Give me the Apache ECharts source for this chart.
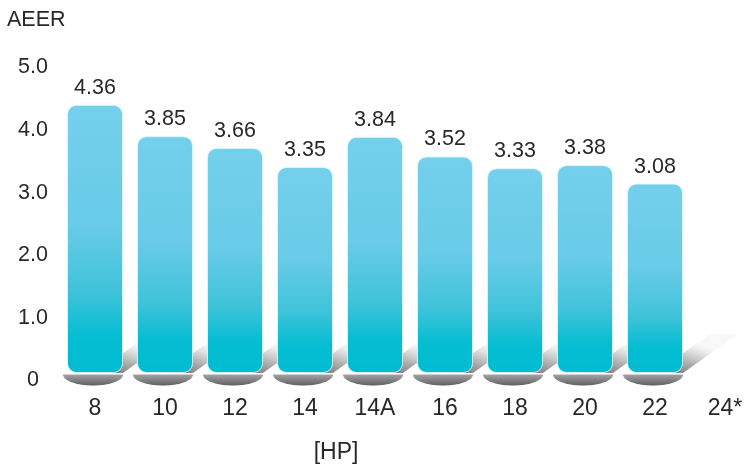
<!DOCTYPE html>
<html>
<head>
<meta charset="utf-8">
<script src="https://cdn.jsdelivr.net/npm/echarts@6/dist/echarts.min.js"></script>
<style>
html,body{margin:0;padding:0;background:#fff;}
#chart{width:746px;height:468px;}
</style>
</head>
<body>
<div id="chart"></div>
<script>
// ---- data ----
const categories = ['8', '10', '12', '14', '14A', '16', '18', '20', '22', '24*'];
const aeerValues = [4.36, 3.85, 3.66, 3.35, 3.84, 3.52, 3.33, 3.38, 3.08]; // 24* has no bar
const yTickValues = [0, 1, 2, 3, 4, 5];
const yTickLabels = ['0', '1.0', '2.0', '3.0', '4.0', '5.0'];
const yAxisTitle = 'AEER';
const xAxisTitle = '[HP]';

const FONT = '"Liberation Sans", Arial, Helvetica, sans-serif';
const TXT = '#282828';
const FS = 21.5;
const FSX = 23;

const chart = echarts.init(document.getElementById('chart'), null, {renderer: 'canvas'});

function renderShadow(params, api) {
  const i = api.value(0);
  const base = api.coord([i, 0]);
  const next = api.coord([i + 1, 0]);
  const band = Math.abs(next[0] - base[0]) || 70;
  const half = band * 0.4;
  const cx = base[0], y0 = base[1];
  const right = cx + half;
  const dx = 55, dy = 39;
  const diag = {
    type: 'polygon',
    shape: {points: [[cx, y0], [right, y0], [right + dx, y0 - dy], [cx + dx, y0 - dy]]},
    style: {
      fill: new echarts.graphic.LinearGradient(0, 1, 0.15, 0, [
        {offset: 0, color: 'rgba(108,108,110,1)'},
        {offset: 0.45, color: 'rgba(165,165,167,0.95)'},
        {offset: 0.8, color: 'rgba(220,220,222,0.8)'},
        {offset: 1, color: 'rgba(236,236,237,0.35)'}
      ])
    },
    z2: 1
  };
  const pts = [];
  const ecx = cx - 2, erx = half + 2, ery = 11, ey = y0 + 1.5;
  for (let k = 0; k <= 40; k++) {
    const t = Math.PI * k / 40;
    pts.push([ecx + erx * Math.cos(t), ey + ery * Math.sin(t)]);
  }
  const ell = {
    type: 'polygon',
    shape: {points: pts},
    style: {
      fill: new echarts.graphic.LinearGradient(0, 0, 0, 1, [
        {offset: 0, color: '#a3a3a5'},
        {offset: 1, color: '#606062'}
      ])
    },
    z2: 2
  };
  return {type: 'group', children: [diag, ell]};
}

const option = {
  animation: false,
  backgroundColor: '#ffffff',
  grid: [
    {left: 95, width: 630, top: 65.5, height: 307.5, containLabel: false},
    {left: 95, width: 630, top: 67.5, height: 313, containLabel: false}
  ],
  xAxis: [
    {
      type: 'category', gridIndex: 0, data: categories, boundaryGap: false,
      axisLine: {show: false}, axisTick: {show: false},
      axisLabel: {color: TXT, fontSize: FSX, fontFamily: FONT, margin: 24, interval: 0}
    },
    {type: 'category', gridIndex: 1, data: categories, boundaryGap: false, show: false}
  ],
  yAxis: [
    {
      type: 'value', gridIndex: 0, min: 0, max: 5, interval: 1,
      axisLine: {show: false}, axisTick: {show: false},
      axisLabel: {show: false}, splitLine: {show: false}
    },
    {
      type: 'value', gridIndex: 1, min: 0, max: 5, interval: 1,
      axisLine: {show: false}, axisTick: {show: false}, splitLine: {show: false},
      axisLabel: {
        color: TXT, fontSize: FS, fontFamily: FONT, margin: 62, align: 'center',
        formatter: function (v) { const k = yTickValues.indexOf(v); return k >= 0 ? yTickLabels[k] : ''; }
      }
    }
  ],
  graphic: [
    {type: 'text', x: 7, y: 20, style: {text: yAxisTitle, fill: TXT, font: FS + 'px ' + FONT, align: 'left', verticalAlign: 'middle'}},
    {type: 'text', x: 336, y: 453, style: {text: xAxisTitle, fill: TXT, font: FSX + 'px ' + FONT, align: 'center', verticalAlign: 'middle'}}
  ],
  series: [
    {
      type: 'custom', xAxisIndex: 0, yAxisIndex: 0, z: 1,
      renderItem: renderShadow,
      encode: {x: 0, y: 1},
      data: aeerValues.map((v, i) => [i, v]),
      clip: false,
      silent: true
    },
    {
      type: 'bar', xAxisIndex: 0, yAxisIndex: 0, z: 3,
      data: aeerValues,
      barWidth: 56,
      itemStyle: {
        borderRadius: 9,
        borderColor: 'rgba(220,245,250,0.9)',
        borderWidth: 1,
        color: new echarts.graphic.LinearGradient(0, 0, 0, 1, [
          {offset: 0, color: '#74d0ec'},
          {offset: 0.45, color: '#68cbe7'},
          {offset: 0.7, color: '#3fc3da'},
          {offset: 0.86, color: '#06bdd2'},
          {offset: 1, color: '#00bcd1'}
        ])
      },
      label: {
        show: true, position: 'top', distance: 6,
        color: TXT, fontSize: FS, fontFamily: FONT,
        formatter: function (p) { return p.value.toFixed(2); }
      }
    }
  ]
};
chart.setOption(option);
</script>
</body>
</html>
